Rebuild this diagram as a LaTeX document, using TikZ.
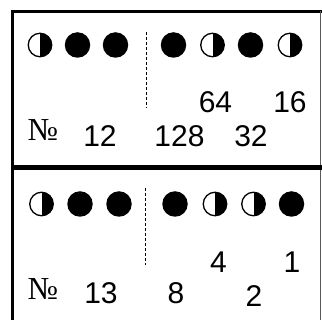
\documentclass[tikz,border=0pt]{standalone}
\usepackage{fontspec}
\setmainfont{Liberation Sans}
\newfontfamily\signfont{Liberation Serif}
\usepackage{tikz}

\begin{document}
\begin{tikzpicture}[x=1pt, y=-1pt,
  every node/.style={font=\fontsize{30}{34}\selectfont, inner sep=0pt},
  fullmoon/.style={circle, fill=black, minimum size=25.5pt},
  halfmoon/.style={circle, draw=black, line width=1.3pt, minimum size=23.5pt,
    path picture={\fill[black] (path picture bounding box.north) rectangle (path picture bounding box.south east);}},
  digit/.style={anchor=base},
  sign/.style={anchor=base, font=\signfont\fontsize{32}{34}\selectfont}]

\useasboundingbox (0,0) rectangle (322,320);

% Frame of the two cards
\draw[line width=3pt] (12.8,320) -- (12.8,11.5) -- (322,11.5);
\draw[line width=1pt, gray!70!black] (320,11.5) -- (320,320);
\draw[line width=4.5pt] (12.8,167.5) -- (322,167.5);

% Card 12: moons
\node[halfmoon] (t1) at (40,45) {};
\node[fullmoon] (t2) at (77.5,45) {};
\node[fullmoon] (t3) at (115.5,45) {};
\node[fullmoon] (t4) at (173.5,45) {};
\node[halfmoon] (t5) at (212.5,45) {};
\node[fullmoon] (t6) at (250.5,45) {};
\node[halfmoon] (t7) at (290,45) {};

% Card 12: separator
\draw[dashed, dash pattern=on 3pt off 2pt, line width=1pt] (146,32) -- (146,108);

% Card 12: values
\node[digit] (t64) at (215.5,113) {64};
\node[digit] (t16) at (290,113) {16};
\node[sign] (tno) at (43,141) {№};
\node[digit] (tnum) at (100,147) {12};
\node[digit] (t128) at (179.5,147) {128};
\node[digit] (t32) at (251,147) {32};

% Card 13: moons
\node[halfmoon] (b1) at (41.5,204) {};
\node[fullmoon] (b2) at (80,204) {};
\node[fullmoon] (b3) at (119,204) {};
\node[fullmoon] (b4) at (175,204) {};
\node[halfmoon] (b5) at (215,204) {};
\node[halfmoon] (b6) at (253.5,204) {};
\node[fullmoon] (b7) at (291.5,204) {};

% Card 13: separator
\draw[dashed, dash pattern=on 3pt off 2pt, line width=1pt] (145.5,188) -- (145.5,265);

% Card 13: values
\node[digit] (b4v) at (218.5,273) {4};
\node[digit] (b1v) at (292,273) {1};
\node[sign] (bno) at (43,300) {№};
\node[digit] (bnum) at (101,304) {13};
\node[digit] (b8) at (176,304) {8};
\node[digit] (b2v) at (254,307) {2};

\end{tikzpicture}
\end{document}
